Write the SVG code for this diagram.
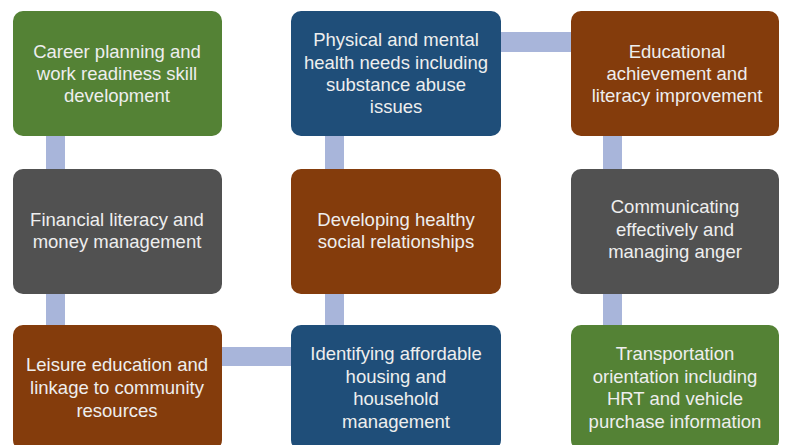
<svg xmlns="http://www.w3.org/2000/svg" width="785" height="445" viewBox="0 0 785 445">
<style>
.box{stroke:none}
.g{fill:#548235}.b{fill:#1F4E79}.r{fill:#843C0C}.k{fill:#515151}
.t{font-family:"Liberation Sans",Arial,sans-serif;font-size:18.5px;fill:#EEEEEE;text-anchor:middle}
.c{fill:#A8B5DA}
</style>
<rect width="785" height="445" fill="#FFFFFF"/>
<g id="connectors">
<rect class="c" x="46" y="130" width="19" height="200"/>
<rect class="c" x="325" y="130" width="19" height="200"/>
<rect class="c" x="603" y="130" width="19" height="200"/>
<rect class="c" x="495" y="32" width="82" height="20"/>
<rect class="c" x="215" y="347" width="82" height="19"/>
</g>
<g id="n1"><rect class="box g" x="13" y="11" width="209" height="125" rx="10"/>
<text class="t" x="117" y="58">Career planning and</text><text class="t" x="117" y="80">work readiness skill</text><text class="t" x="117" y="102">development</text></g>
<g id="n2"><rect class="box b" x="291" y="11" width="210" height="125" rx="10"/>
<text class="t" x="396" y="46">Physical and mental</text><text class="t" x="396" y="68.5">health needs including</text><text class="t" x="396" y="91">substance abuse</text><text class="t" x="396" y="113">issues</text></g>
<g id="n3"><rect class="box r" x="571" y="11" width="208" height="125" rx="10"/>
<text class="t" x="677" y="58">Educational</text><text class="t" x="677" y="80">achievement and</text><text class="t" x="677" y="102">literacy improvement</text></g>
<g id="n4"><rect class="box k" x="13" y="169" width="209" height="125" rx="10"/>
<text class="t" x="117" y="226">Financial literacy and</text><text class="t" x="117" y="248">money management</text></g>
<g id="n5"><rect class="box r" x="291" y="169" width="210" height="125" rx="10"/>
<text class="t" x="396" y="226">Developing healthy</text><text class="t" x="396" y="248">social relationships</text></g>
<g id="n6"><rect class="box k" x="571" y="169" width="208" height="125" rx="10"/>
<text class="t" x="675" y="213">Communicating</text><text class="t" x="675" y="236">effectively and</text><text class="t" x="675" y="258">managing anger</text></g>
<g id="n7"><rect class="box r" x="13" y="325" width="209" height="125" rx="10"/>
<text class="t" x="117" y="371">Leisure education and</text><text class="t" x="117" y="394">linkage to community</text><text class="t" x="117" y="417">resources</text></g>
<g id="n8"><rect class="box b" x="291" y="325" width="210" height="125" rx="10"/>
<text class="t" x="396" y="360">Identifying affordable</text><text class="t" x="396" y="382.5">housing and</text><text class="t" x="396" y="405">household</text><text class="t" x="396" y="427.5">management</text></g>
<g id="n9"><rect class="box g" x="571" y="325" width="208" height="125" rx="10"/>
<text class="t" x="675" y="360">Transportation</text><text class="t" x="675" y="382.5">orientation including</text><text class="t" x="675" y="405">HRT and vehicle</text><text class="t" x="675" y="427.5">purchase information</text></g>
</svg>
